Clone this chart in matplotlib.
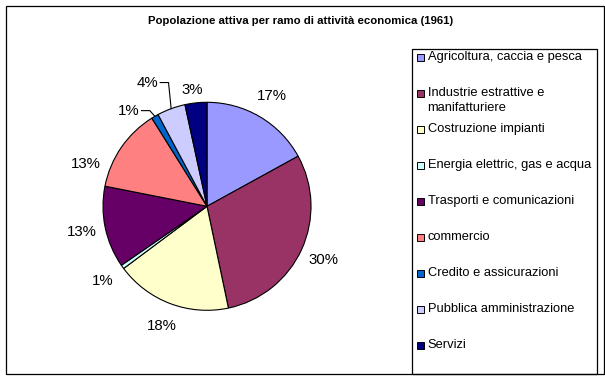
import matplotlib
matplotlib.use("Agg")
import matplotlib.pyplot as plt
from matplotlib.patches import Rectangle
import numpy as np

plt.rcParams['font.family'] = ['Liberation Sans', 'DejaVu Sans']

title = "Popolazione attiva per ramo di attività economica (1961)"
categories = [
    "Agricoltura, caccia e pesca",
    "Industrie estrattive e\nmanifatturiere",
    "Costruzione impianti",
    "Energia elettric, gas e acqua",
    "Trasporti e comunicazioni",
    "commercio",
    "Credito e assicurazioni",
    "Pubblica amministrazione",
    "Servizi",
]
values = [17.0, 29.7, 18.1, 0.6, 12.7, 13.0, 1.1, 4.4, 3.4]
colors = ["#9999FF", "#993366", "#FFFFCC", "#CCFFFF", "#660066",
          "#FF8080", "#0066CC", "#CCCCFF", "#000080"]

W, H = 605, 378
fig = plt.figure(figsize=(W / 100, H / 100), dpi=100)
fig.patch.set_facecolor("white")


def fx(px):
    return px / W


def fy(py):
    return 1 - py / H


# outer chart border
fig.patches.append(Rectangle((fx(5.5), fy(373.5)), fx(603.5) - fx(5.5), fy(5.5) - fy(373.5),
                             transform=fig.transFigure, fill=False, edgecolor="black",
                             linewidth=0.9))

# title
fig.text(fx(301), fy(21), title, ha="center", va="center", fontsize=8.2,
         fontweight="bold")

# pie axes
cx, cy, r = 207, 206.3, 104
ax = fig.add_axes([fx(cx - r), fy(cy + r), (2 * r) / W, (2 * r) / H])


def fmt(p):
    return "%d%%" % int(np.floor(p + 0.5))


wedges, texts, autotexts = ax.pie(
    values, colors=colors, startangle=90, counterclock=False,
    wedgeprops=dict(edgecolor="black", linewidth=0.8),
    autopct=fmt, pctdistance=1.23,
    textprops=dict(fontsize=10.8, color="black"))
ax.set_xlim(-1, 1)
ax.set_ylim(-1, 1)
ax.set_aspect("equal")
ax.axis("off")

# layout adjustments for crowded labels (data coords of the pie axes)
label_pos = {5: (-1.17, 0.41), 6: (-0.75, 0.92), 7: (-0.57, 1.19), 8: (-0.14, 1.12)}
for i, (x, y) in label_pos.items():
    autotexts[i].set_position((x, y))

# leader lines for small slices
for i, (tx, ty) in [(6, (-0.63, 0.92)), (7, (-0.45, 1.19))]:
    w = wedges[i]
    mid = np.deg2rad((w.theta1 + w.theta2) / 2)
    ex, ey = np.cos(mid), np.sin(mid)
    ax.plot([tx, tx + 0.08, ex], [ty, ty, ey], color="black", linewidth=0.8,
            clip_on=False)

# legend box
lx0, ly0, lx1, ly1 = 412, 48, 596, 373
fig.patches.append(Rectangle((fx(lx0 + 0.5), fy(ly1 + 0.5)), fx(lx1) - fx(lx0), fy(ly0) - fy(ly1),
                             transform=fig.transFigure, fill=False, edgecolor="black",
                             linewidth=0.9))
first_y, step = 57.5, 36.0
for i, (lab, col) in enumerate(zip(categories, colors)):
    y = first_y + step * i
    fig.patches.append(Rectangle((fx(417), fy(y + 3.5)), 7 / W, 7 / H,
                                 transform=fig.transFigure, facecolor=col,
                                 edgecolor="black", linewidth=0.7))
    fig.text(fx(427.5), fy(y - 6.5), lab, ha="left", va="top", fontsize=9.3,
             linespacing=1.35)

fig.savefig("out.png", dpi=100)
